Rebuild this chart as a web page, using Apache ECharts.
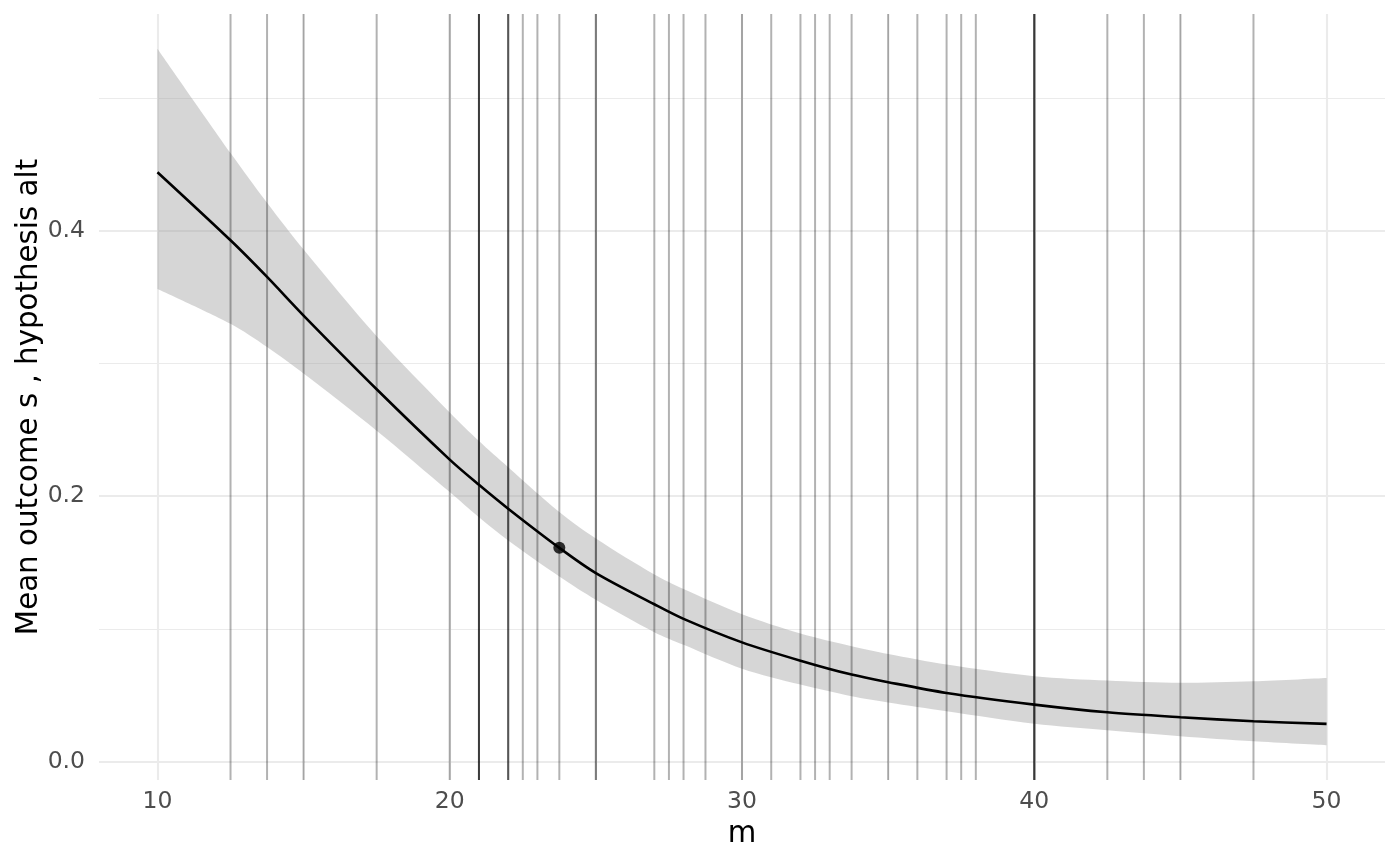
<!DOCTYPE html>
<html>
<head>
<meta charset="utf-8">
<script src="https://cdn.jsdelivr.net/npm/echarts@6/dist/echarts.min.js"></script>
<style>
  html, body { margin: 0; padding: 0; background: #ffffff; }
  #chart { width: 1400px; height: 865px; }
</style>
</head>
<body>
<div id="chart"></div>
<script>
// ---- data ----
const mValues     = [10, 12.5, 13.75, 15, 17.5, 20, 21, 22, 23.75, 25, 27, 28, 30, 32, 33.75, 35, 37, 40, 42.5, 45, 47.5, 50];
const meanValues  = [0.444, 0.3927, 0.3651, 0.336, 0.2805, 0.2275, 0.2085, 0.1905, 0.161, 0.142, 0.1185, 0.1075, 0.0898, 0.076, 0.0655, 0.0598, 0.0517, 0.0429, 0.0371, 0.0334, 0.0304, 0.0284];
const upperValues = [0.537, 0.4585, 0.421, 0.3857, 0.3204, 0.263, 0.2415, 0.2218, 0.188, 0.168, 0.1409, 0.130, 0.111, 0.0965, 0.0869, 0.081, 0.0731, 0.0643, 0.061, 0.0593, 0.0605, 0.063];
const lowerValues = [0.356, 0.3298, 0.3123, 0.2923, 0.2493, 0.203, 0.184, 0.1665, 0.1394, 0.1219, 0.0975, 0.088, 0.070, 0.058, 0.0492, 0.0445, 0.0379, 0.0284, 0.0236, 0.0191, 0.0153, 0.0123];
const pointM = [23.75];
const pointY = [0.161];
// observed m values (repeats overlap and darken)
const rugValues = [12.5, 13.75, 15, 17.5, 20, 21, 21, 21, 21, 22, 22, 22, 22.5, 23, 23.75, 25, 25,
  27, 27.5, 28, 28.75, 30, 31, 32, 32.5, 33, 33.75, 35, 36, 37, 37.5, 38, 40, 40, 40, 40,
  42.5, 43.75, 45, 47.5];
const xMajorTicks = [10, 20, 30, 40, 50];
const xMinorTicks = [15, 25, 35, 45];
const yMajorTicks = [0, 0.2, 0.4];
const yMinorTicks = [0.1, 0.3, 0.5];
const xTitle = 'm';
const yTitle = 'Mean outcome s , hypothesis alt';

// ---- build ----
const X_MIN = 8, X_MAX = 52;
const Y_MIN = -0.0139, Y_MAX = 0.5632;
const FONT = 'DejaVu Sans';
const SMOOTH = 0.3;

// columns ordered [y, m] so that stacking happens on the y dimension
const lowerData = mValues.map((m, i) => [lowerValues[i], m]);
const bandData = mValues.map((m, i) => [upperValues[i] - lowerValues[i], m]);
const meanData = mValues.map((m, i) => [m, meanValues[i]]);
const pointData = pointM.map((m, i) => [m, pointY[i]]);
const rugData = rugValues.map(v => [v]);

const chart = echarts.init(document.getElementById('chart'), null, { renderer: 'canvas' });

function xAxisDef(ticks, major) {
  return {
    type: 'value', min: X_MIN, max: X_MAX, position: 'bottom',
    axisLine: { show: false },
    axisTick: { show: false, customValues: ticks },
    axisLabel: major ? {
      show: true, customValues: ticks, color: '#4d4d4d', fontFamily: FONT, fontSize: 23.5, margin: 10,
      formatter: v => String(v)
    } : { show: false },
    splitLine: { show: true, lineStyle: { color: '#ebebeb', width: major ? 2.1 : 1.1 } },
    name: major ? xTitle : '',
    nameLocation: 'middle', nameGap: 40, nameMoveOverlap: false,
    nameTextStyle: { color: '#000000', fontFamily: FONT, fontSize: 29.3 }
  };
}
function yAxisDef(ticks, major) {
  return {
    type: 'value', min: Y_MIN, max: Y_MAX, position: 'left',
    axisLine: { show: false },
    axisTick: { show: false, customValues: ticks },
    axisLabel: major ? {
      show: true, customValues: ticks, color: '#4d4d4d', fontFamily: FONT, fontSize: 23.5, margin: 14,
      formatter: v => v.toFixed(1)
    } : { show: false },
    splitLine: { show: true, lineStyle: { color: '#ebebeb', width: major ? 2.1 : 1.1 } },
    name: major ? yTitle : '',
    nameLocation: 'middle', nameGap: 55, nameRotate: 90, nameMoveOverlap: false,
    nameTextStyle: { color: '#000000', fontFamily: FONT, fontSize: 29.3 }
  };
}

const option = {
  backgroundColor: '#ffffff',
  animation: false,
  grid: { left: 99, right: 15, top: 14, bottom: 85, outerBoundsMode: 'none', containLabel: false },
  xAxis: [xAxisDef(xMajorTicks, true), xAxisDef(xMinorTicks, false)],
  yAxis: [yAxisDef(yMajorTicks, true), yAxisDef(yMinorTicks, false)],
  series: [
    {
      name: 'lower', type: 'line', data: lowerData, encode: { x: 1, y: 0 },
      stack: 'band', smooth: SMOOTH,
      symbol: 'none', lineStyle: { opacity: 0 }, z: 1, silent: true
    },
    {
      name: 'band', type: 'line', data: bandData, encode: { x: 1, y: 0 },
      stack: 'band', smooth: SMOOTH,
      symbol: 'none', lineStyle: { opacity: 0 },
      areaStyle: { color: 'rgba(153,153,153,0.4)', opacity: 1 }, z: 1, silent: true
    },
    {
      name: 'rug', type: 'custom', data: rugData, z: 2, silent: true, clip: false,
      encode: { x: 0 },
      renderItem: function (params, api) {
        const v = api.value(0);
        const p0 = api.coord([v, Y_MAX]);
        const p1 = api.coord([v, Y_MIN]);
        return {
          type: 'line',
          shape: { x1: p0[0], y1: p0[1], x2: p1[0], y2: p1[1] },
          style: { stroke: 'rgba(0,0,0,0.3)', lineWidth: 2, fill: null }
        };
      }
    },
    {
      name: 'mean', type: 'line', data: meanData, smooth: SMOOTH,
      symbol: 'none', lineStyle: { color: '#000000', width: 2.6 }, z: 5, silent: true
    },
    {
      name: 'point', type: 'scatter', data: pointData, symbol: 'circle', symbolSize: 12,
      itemStyle: { color: '#000000' }, z: 6, silent: true
    }
  ]
};
chart.setOption(option);
</script>
</body>
</html>
